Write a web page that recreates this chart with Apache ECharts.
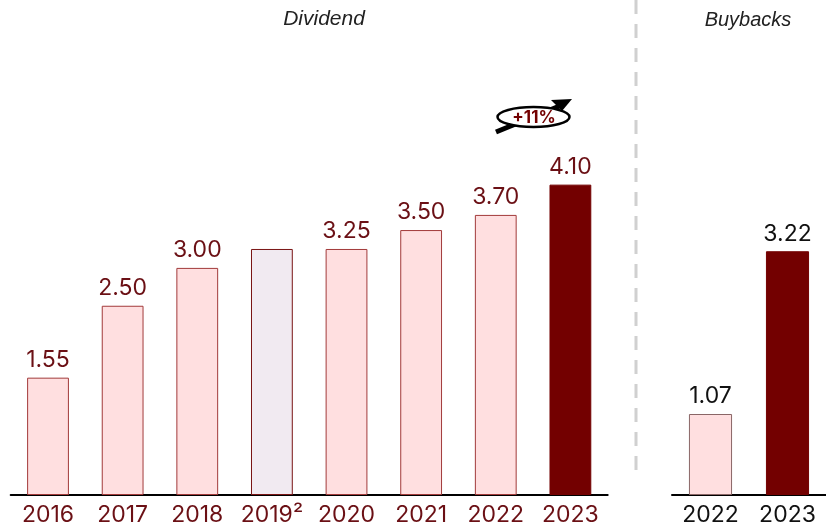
<!DOCTYPE html>
<html>
<head>
<meta charset="utf-8">
<script src="https://cdn.jsdelivr.net/npm/echarts@6/dist/echarts.min.js"></script>
<style>
  html, body { margin: 0; padding: 0; background: #fff; }
  #main { width: 826px; height: 530px; }
</style>
</head>
<body>
<div id="main"></div>
<script>
// dividend per share
const divYears = ['2016', '2017', '2018', '2019²', '2020', '2021', '2022', '2023'];
const divValues = [1.55, 2.50, 3.00, 3.25, 3.25, 3.50, 3.70, 4.10];
const divLabels = ['1.55', '2.50', '3.00', '', '3.25', '3.50', '3.70', '4.10'];

// buybacks
const bbYears = ['2022', '2023'];
const bbValues = [1.07, 3.22];
const bbLabels = ['1.07', '3.22'];

const growthText = '+11%';

const darkRed = '#730000';
const labelRed = '#6b1015';
const pink = '#ffdfe0';
const pinkBorder = '#a23a3a';
const numFont = 'Inter';

const chart = echarts.init(document.getElementById('main'));

function divStyle(i) {
  if (i === divValues.length - 1) return { color: darkRed, borderColor: darkRed, borderWidth: 1 };
  if (i === 3) return { color: '#f1eaf1', borderColor: '#7a1414', borderWidth: 1 };
  return { color: pink, borderColor: pinkBorder, borderWidth: 1 };
}

const option = {
  animation: false,
  textStyle: { fontFamily: numFont },
  grid: [
    { left: 10.7, width: 597, top: 116.5, bottom: 35, containLabel: false },
    { left: 672, width: 158, top: 116.5, bottom: 35, containLabel: false }
  ],
  xAxis: [
    {
      type: 'category', gridIndex: 0, data: divYears,
      axisLine: { lineStyle: { color: '#000', width: 2 } },
      axisTick: { show: false },
      axisLabel: { color: labelRed, fontSize: 23, fontFamily: numFont, margin: 9, interval: 0, hideOverlap: false }
    },
    {
      type: 'category', gridIndex: 1, data: bbYears,
      axisLine: { lineStyle: { color: '#000', width: 2 } },
      axisTick: { show: false },
      axisLabel: { color: '#111', fontSize: 23, fontFamily: numFont, margin: 9, interval: 0, hideOverlap: false }
    }
  ],
  yAxis: [
    { type: 'value', gridIndex: 0, min: 0, max: 5, show: false },
    { type: 'value', gridIndex: 1, min: 0, max: 5, show: false }
  ],
  series: [
    {
      type: 'bar', xAxisIndex: 0, yAxisIndex: 0, barWidth: '56%',
      data: divValues.map((v, i) => ({ value: v, itemStyle: divStyle(i) })),
      label: {
        show: true, position: 'top', distance: 6, fontSize: 23, fontFamily: numFont, color: labelRed,
        formatter: p => divLabels[p.dataIndex]
      }
    },
    {
      type: 'bar', xAxisIndex: 1, yAxisIndex: 1, barWidth: '56%',
      data: bbValues.map((v, i) => ({
        value: v,
        itemStyle: i === 1
          ? { color: darkRed, borderColor: darkRed, borderWidth: 1 }
          : { color: pink, borderColor: '#8a6666', borderWidth: 1 }
      })),
      label: {
        show: true, position: 'top', distance: 6, fontSize: 23, fontFamily: numFont, color: '#111',
        formatter: p => bbLabels[p.dataIndex]
      }
    }
  ],
  graphic: [
    { type: 'text', x: 324, y: 19, style: { text: 'Dividend', fontSize: 21, fontStyle: 'italic', fontFamily: 'Liberation Sans', fill: '#222', align: 'center', verticalAlign: 'middle' } },
    { type: 'text', x: 748, y: 20, style: { text: 'Buybacks', fontSize: 20, fontStyle: 'italic', fontFamily: 'Liberation Sans', fill: '#222', align: 'center', verticalAlign: 'middle' } },
    // separator
    { type: 'line', shape: { x1: 636, y1: 0, x2: 636, y2: 478 }, style: { stroke: '#d0d0d0', lineWidth: 3, lineDash: [14, 10] } },
    // growth arrow
    { type: 'line', shape: { x1: 496, y1: 132, x2: 562, y2: 105 }, style: { stroke: '#000', lineWidth: 5 } },
    { type: 'polygon', shape: { points: [[551, 100], [572, 99], [562, 111]] }, style: { fill: '#000' } },
    { type: 'ellipse', shape: { cx: 533.5, cy: 117, rx: 36, ry: 10 }, style: { fill: '#fff', stroke: '#000', lineWidth: 2.5 } },
    { type: 'text', x: 534, y: 117.5, style: { text: growthText, fontSize: 17, fontWeight: 'bold', fontFamily: numFont, fill: darkRed, align: 'center', verticalAlign: 'middle' } }
  ]
};

chart.setOption(option);
</script>
</body>
</html>
